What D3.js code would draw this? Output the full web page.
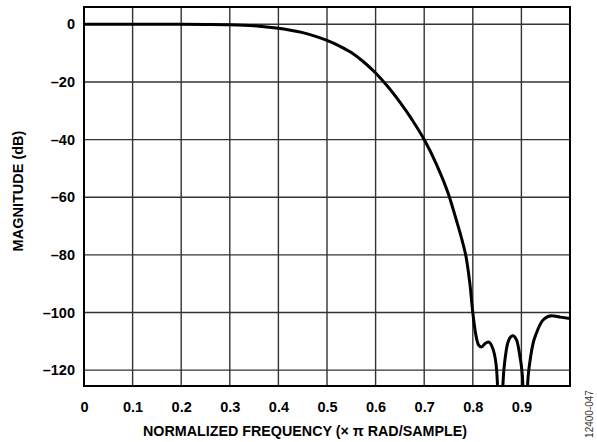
<!DOCTYPE html>
<html>
<head>
<meta charset="utf-8">
<script src="https://cdn.jsdelivr.net/npm/d3@7"></script>
<style>
  html, body { margin: 0; padding: 0; background: #fff; }
  svg { display: block; }
  text { font-family: Arial, "Liberation Sans", Helvetica, sans-serif; }
</style>
</head>
<body>
<script>
// ---- data ----
const freq = [0, 0.1, 0.2, 0.25, 0.3, 0.35, 0.4, 0.425, 0.45, 0.475, 0.5, 0.525, 0.55, 0.575, 0.6, 0.625, 0.65, 0.675, 0.7, 0.725, 0.75, 0.765, 0.778, 0.787, 0.794, 0.8, 0.806, 0.812, 0.818, 0.825, 0.832, 0.842, 0.849, 0.856, 0.864, 0.869, 0.876, 0.882, 0.890, 0.897, 0.902, 0.907, 0.914, 0.919, 0.924, 0.931, 0.945, 0.962, 0.98, 1.0];
const magDb = [0, 0, 0, -0.05, -0.15, -0.5, -1.4, -2.1, -2.9, -4.1, -5.6, -7.5, -9.8, -13.0, -16.9, -21.6, -27.0, -33.1, -40.0, -48.5, -59, -67.3, -75, -81.5, -90, -100, -107.5, -111.3, -112, -110.8, -110.2, -112.9, -119.8, -140, -119.8, -112.9, -108.9, -108.1, -109.5, -115.3, -122, -140, -122, -115.3, -110.7, -107.1, -102.5, -101.1, -101.6, -102.1];
const xTicks = [0, 0.1, 0.2, 0.3, 0.4, 0.5, 0.6, 0.7, 0.8, 0.9];
const xTickLabels = ["0", "0.1", "0.2", "0.3", "0.4", "0.5", "0.6", "0.7", "0.8", "0.9"];
const yTicks = [0, -20, -40, -60, -80, -100, -120];
const yTickLabels = ["0", "–20", "–40", "–60", "–80", "–100", "–120"];
const xTitle = "NORMALIZED FREQUENCY (× π RAD/SAMPLE)";
const yTitle = "MAGNITUDE (dB)";
const figId = "12400-047";

// ---- layout ----
const W = 597, H = 442;
const L = 84, R = 570, T = 7, B = 386;

const svg = d3.select("body").append("svg").attr("width", W).attr("height", H);

const x = d3.scaleLinear().domain([0, 1]).range([L, R]);
const y = d3.scaleLinear().domain([-125.5, 6]).range([B, T]);

// grid
const gridX = [0.1,0.2,0.3,0.4,0.5,0.6,0.7,0.8,0.9];
svg.append("g").selectAll("line").data(gridX).join("line")
  .attr("x1", d => x(d)).attr("x2", d => x(d))
  .attr("y1", T).attr("y2", B)
  .attr("stroke", "#333").attr("stroke-width", 1.4);
svg.append("g").selectAll("line").data(yTicks).join("line")
  .attr("x1", L).attr("x2", R)
  .attr("y1", d => y(d)).attr("y2", d => y(d))
  .attr("stroke", "#333").attr("stroke-width", 1.4);

// clip
svg.append("clipPath").attr("id", "clip")
  .append("rect").attr("x", L).attr("y", T).attr("width", R - L).attr("height", B - T);

// curve
const pts = freq.map((f, i) => [f, magDb[i]]);
const line = d3.line().x(d => x(d[0])).y(d => y(d[1])).curve(d3.curveMonotoneX);
svg.append("path").datum(pts)
  .attr("clip-path", "url(#clip)")
  .attr("d", line)
  .attr("fill", "none").attr("stroke", "#000").attr("stroke-width", 3)
  .attr("stroke-linejoin", "round");

// border
svg.append("rect").attr("x", L).attr("y", T).attr("width", R - L).attr("height", B - T)
  .attr("fill", "none").attr("stroke", "#000").attr("stroke-width", 2);

// axes labels
const xAxis = d3.axisBottom(x).tickValues(xTicks).tickSize(0)
  .tickFormat((d, i) => xTickLabels[i]);
const gx = svg.append("g").attr("transform", `translate(0,${B})`).call(xAxis);
gx.select(".domain").remove();
gx.selectAll("text").attr("dy", null).attr("y", 26)
  .attr("font-size", "14.5px").attr("font-weight", "bold").attr("fill", "#000")
  .attr("font-family", "Arial, 'Liberation Sans', sans-serif");

const yAxis = d3.axisLeft(y).tickValues(yTicks).tickSize(0)
  .tickFormat((d, i) => yTickLabels[i]);
const gy = svg.append("g").attr("transform", `translate(${L},0)`).call(yAxis);
gy.select(".domain").remove();
gy.selectAll("text").attr("x", -9)
  .attr("font-size", "14.5px").attr("font-weight", "bold").attr("fill", "#000")
  .attr("font-family", "Arial, 'Liberation Sans', sans-serif");

// titles
svg.append("text").attr("x", 305).attr("y", 435.5).attr("text-anchor", "middle")
  .attr("font-size", "14.3px").attr("font-weight", "bold").text(xTitle);
svg.append("text").attr("transform", `translate(23,191) rotate(-90)`).attr("text-anchor", "middle")
  .attr("font-size", "14.5px").attr("font-weight", "bold").text(yTitle);

// figure id
svg.append("text").attr("transform", `translate(593,414) rotate(-90)`).attr("text-anchor", "middle")
  .attr("font-size", "10px").attr("fill", "#333").text(figId);
</script>
</body>
</html>
